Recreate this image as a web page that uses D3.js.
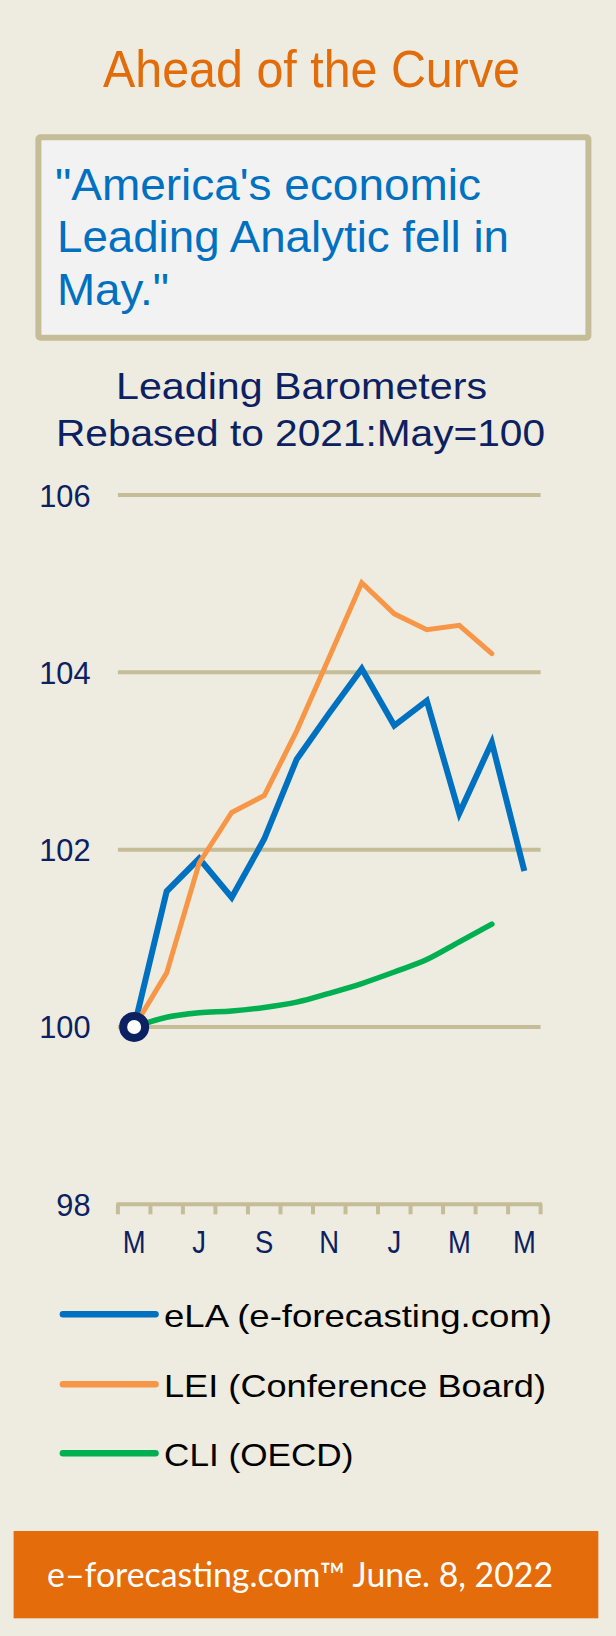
<!DOCTYPE html>
<html><head><meta charset="utf-8">
<script src="https://cdnjs.cloudflare.com/ajax/libs/d3/7.8.5/d3.min.js"></script>
<style>html,body{margin:0;padding:0;background:#EEEBE0;}svg{display:block;}</style>
</head><body>
<script>
const months = ["2021-05","2021-06","2021-07","2021-08","2021-09","2021-10","2021-11","2021-12","2022-01","2022-02","2022-03","2022-04","2022-05"];
const monthLabels = ["M","","J","","S","","N","","J","","M","","M"];
const yTicks = [98, 100, 102, 104, 106];
const elaValues = [100, 101.53, 101.90, 101.46, 102.12, 103.02, 103.54, 104.04, 103.40, 103.68, 102.41, 103.21, 101.76];
const leiValues = [100, 100.61, 101.85, 102.42, 102.61, 103.34, 104.17, 105.01, 104.66, 104.48, 104.53, 104.21];
const cliValues = [100, 100.11, 100.16, 100.18, 100.22, 100.28, 100.38, 100.49, 100.62, 100.76, 100.96, 101.16];
const seriesNames = ["eLA (e-forecasting.com)", "LEI (Conference Board)", "CLI (OECD)"];
const seriesColors = ["#0070C0", "#F79646", "#00B050"];

const W = 616, H = 1636;
const navy = "#0B2162", tan = "#C4BD97";
const svg = d3.select("body").append("svg").attr("width", W).attr("height", H);
svg.append("rect").attr("width", W).attr("height", H).attr("fill", "#EEEBE0");

const font = "'Liberation Sans', Arial, sans-serif";
function txt(s, x, y, size, color, len, anchor) {
  const t = svg.append("text").attr("x", x).attr("y", y).text(s)
    .attr("font-family", font).attr("font-size", size).attr("fill", color);
  if (len) t.attr("textLength", len).attr("lengthAdjust", "spacingAndGlyphs");
  if (anchor) t.attr("text-anchor", anchor);
  return t;
}

// Title
txt("Ahead of the Curve", 103, 87, 51.5, "#E36C0A", 417);

// Quote box
svg.append("rect").attr("x", 38.4).attr("y", 137.3).attr("width", 550).attr("height", 200.4)
  .attr("rx", 2).attr("fill", "#F2F2F2").attr("stroke", tan).attr("stroke-width", 6);
txt("\"America's economic", 55, 200, 43.5, "#0070C0", 426);
txt("Leading Analytic fell in", 57, 252.3, 43.5, "#0070C0", 452);
txt("May.\"", 57, 305, 43.5, "#0070C0", 112);

// Subtitle
txt("Leading Barometers", 116, 399.3, 36.5, navy, 371);
txt("Rebased to 2021:May=100", 56, 446, 36.5, navy, 489);

// Scales
const x = d3.scaleBand().domain(months).range([117.9, 540.6]).padding(0);
const y = d3.scaleLinear().domain([98, 106]).range([1204.3, 495]);
const cx = d => x(d) + x.bandwidth() / 2;

// Gridlines
svg.append("g").selectAll("line").data(yTicks.filter(v => v > 98)).join("line")
  .attr("x1", x.range()[0]).attr("x2", x.range()[1])
  .attr("y1", d => y(d)).attr("y2", d => y(d))
  .attr("stroke", tan).attr("stroke-width", 4);

// Y axis labels
svg.append("g").selectAll("text").data(yTicks).join("text")
  .attr("x", 90.5).attr("y", d => y(d)).attr("dy", "0.36em")
  .attr("text-anchor", "end").attr("font-family", font).attr("font-size", 32)
  .attr("fill", navy).attr("textLength", d => String(d).length * 17.1)
  .attr("lengthAdjust", "spacingAndGlyphs").text(d => d);

// X axis
const xAxis = d3.axisBottom(x).tickSize(0).tickFormat((d, i) => monthLabels[i]);
const gx = svg.append("g").attr("transform", `translate(0,${y(98)})`).call(xAxis);
gx.select(".domain").remove();
gx.selectAll("text").attr("font-family", font).attr("font-size", 31.5).attr("fill", navy)
  .attr("dy", null).attr("y", 49).attr("transform", "scale(0.87,1)");
svg.append("line").attr("x1", x.range()[0] - 1.5).attr("x2", x.range()[1] + 1.5)
  .attr("y1", y(98)).attr("y2", y(98)).attr("stroke", tan).attr("stroke-width", 4);
const edges = months.map(m => x(m)).concat([x.range()[1]]);
svg.append("g").selectAll("line").data(edges).join("line")
  .attr("x1", d => d).attr("x2", d => d).attr("y1", y(98)).attr("y2", y(98) + 10)
  .attr("stroke", tan).attr("stroke-width", 4);

// Lines
const lineStraight = d3.line().x((d, i) => cx(months[i])).y(d => y(d));
const lineSmooth = d3.line().x((d, i) => cx(months[i])).y(d => y(d)).curve(d3.curveMonotoneX);
svg.append("path").datum(cliValues).attr("d", lineSmooth).attr("fill", "none")
  .attr("stroke", seriesColors[2]).attr("stroke-width", 5.5).attr("stroke-linecap", "round");
svg.append("path").datum(elaValues).attr("d", lineStraight).attr("fill", "none")
  .attr("stroke", seriesColors[0]).attr("stroke-width", 6).attr("stroke-linejoin", "miter").attr("stroke-linecap", "butt");
svg.append("path").datum(leiValues).attr("d", lineStraight).attr("fill", "none")
  .attr("stroke", seriesColors[1]).attr("stroke-width", 5).attr("stroke-linecap", "round");

// Start marker
svg.append("circle").attr("cx", cx(months[0])).attr("cy", y(elaValues[0])).attr("r", 11)
  .attr("fill", "#FFFFFF").attr("stroke", navy).attr("stroke-width", 8);

// Legend
const legY = [1314.3, 1384.3, 1453.3];
const legLen = [388, 382, 189.4];
seriesNames.forEach((n, i) => {
  svg.append("line").attr("x1", 62.9).attr("x2", 155.5).attr("y1", legY[i]).attr("y2", legY[i])
    .attr("stroke", seriesColors[i]).attr("stroke-width", 6.5).attr("stroke-linecap", "round");
  txt(n, 164, legY[i] + 12.4, 30.5, "#000000", legLen[i]);
});

// Footer
svg.append("rect").attr("x", 13.6).attr("y", 1531).attr("width", 584.7).attr("height", 87.3).attr("fill", "#E46C0A");
svg.append("text").attr("x", 47.1).attr("y", 1587.3).text("e\u2013forecasting.com\u2122 June. 8, 2022")
  .attr("font-family", "Lato, 'Open Sans', sans-serif").attr("font-size", 34).attr("fill", "#FFFFFF")
  .attr("textLength", 506).attr("lengthAdjust", "spacingAndGlyphs");
</script>
</body></html>
